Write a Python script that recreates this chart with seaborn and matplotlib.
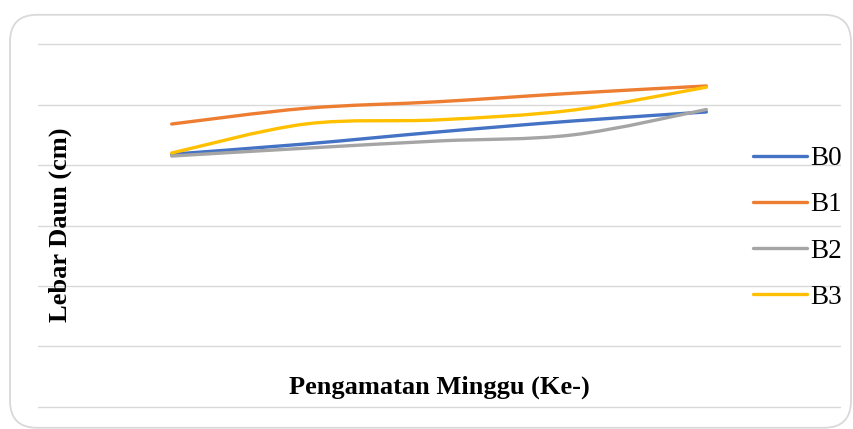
import numpy as np
import pandas as pd
import matplotlib
matplotlib.use("Agg")
import matplotlib.pyplot as plt
from matplotlib.path import Path
from matplotlib.patches import PathPatch, FancyBboxPatch
import seaborn as sns

sns.set_style("white")
plt.rcParams['font.family'] = ['Liberation Serif', 'DejaVu Serif']
plt.rcParams['text.color'] = 'black'

# data (leaf width, cm)
weeks = [1, 2, 3, 4, 5]
b0 = [4.18, 4.35, 4.55, 4.73, 4.88]
b1 = [4.68, 4.94, 5.05, 5.19, 5.31]
b2 = [4.15, 4.28, 4.40, 4.50, 4.92]
b3 = [4.20, 4.68, 4.75, 4.91, 5.29]
series = ["B0", "B1", "B2", "B3"]
colors = ["#4472C4", "#ED7D31", "#A5A5A5", "#FFC000"]

df = pd.DataFrame({"Minggu": weeks * 4,
                   "Lebar": b0 + b1 + b2 + b3,
                   "Perlakuan": [s for s in series for _ in weeks]})


def smooth_path(x, y):
    # Excel-style smoothed line: cubic Bezier through each point
    pts = np.column_stack([x, y])
    ext = np.vstack([pts[0], pts, pts[-1]])
    verts = [pts[0]]
    codes = [Path.MOVETO]
    for i in range(len(pts) - 1):
        p0, p1, p2, p3 = ext[i], ext[i + 1], ext[i + 2], ext[i + 3]
        c1 = p1 + (p2 - p0) / 6.0
        c2 = p2 - (p3 - p1) / 6.0
        verts += [c1, c2, p2]
        codes += [Path.CURVE4] * 3
    return Path(verts, codes)


fig = plt.figure(figsize=(8.54, 4.29), dpi=100)
ax = fig.add_axes([38 / 854, 1 - 406.7 / 429, (840 - 38) / 854, (406.7 - 44.3) / 429])

sns.lineplot(data=df, x="Minggu", y="Lebar", hue="Perlakuan",
             palette=colors, linewidth=2.4, ax=ax, legend=True)

ax.set_xlim(0, 6)
ax.set_ylim(0, 6)
ax.set_yticks(range(0, 7))
ax.set_xticks([])
ax.tick_params(left=False, labelleft=False, bottom=False, labelbottom=False)
ax.grid(axis="y", color="#d9d9d9", linewidth=1.0)
for g in ax.get_ygridlines():
    g.set_clip_on(False)
for sp in ax.spines.values():
    sp.set_visible(False)
ax.set_xlabel("")
ax.set_ylabel("")

handles, labels = ax.get_legend_handles_labels()
leg = ax.legend(handles, labels, loc="center left", frameon=False,
                bbox_to_anchor=(742 / 854, 1 - 228 / 429), bbox_transform=fig.transFigure,
                fontsize=19.5, handlelength=2.0, handletextpad=0.12,
                labelspacing=0.78, borderaxespad=0, labelcolor="black")
for h in leg.get_lines():
    h.set_linewidth(2.4)

# replace straight segments with smoothed curves
for line in list(ax.lines):
    xd, yd = line.get_xdata(), line.get_ydata()
    if len(xd) < 2:
        continue
    ax.add_patch(PathPatch(smooth_path(np.asarray(xd, float), np.asarray(yd, float)),
                           facecolor="none", edgecolor=line.get_color(),
                           linewidth=2.4, capstyle="round", zorder=3))
    line.set_visible(False)

fig.text(60 / 854, 1 - 225 / 429, "Lebar Daun (cm)", rotation=90,
         ha="center", va="center", fontsize=19, fontweight="bold", color="black")
fig.text(439 / 854, 1 - 387 / 429, "Pengamatan Minggu (Ke-)",
         ha="center", va="center", fontsize=19, fontweight="bold", color="black")

frame = FancyBboxPatch((0.10, 0.012), 8.41, 4.13,
                       boxstyle="round,pad=0,rounding_size=0.27",
                       transform=fig.dpi_scale_trans, facecolor="none",
                       edgecolor="#d9d9d9", linewidth=1.3, clip_on=False)
fig.patches.append(frame)

fig.savefig("out.png", dpi=100)
